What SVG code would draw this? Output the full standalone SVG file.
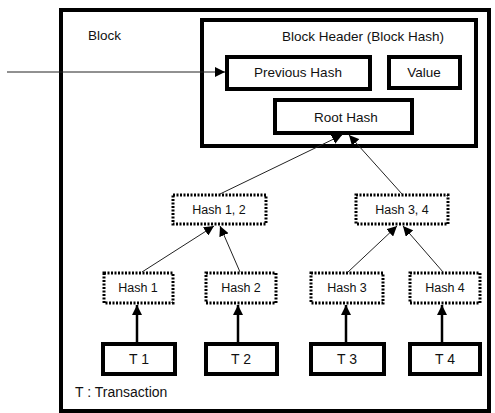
<svg xmlns="http://www.w3.org/2000/svg" width="495" height="413" viewBox="0 0 495 413">
  <style>
    .solid { fill: #fff; stroke: #000; stroke-width: 4; }
    .thick { fill: none; stroke: #000; stroke-width: 4; }
    .dot { fill: #fff; stroke: #000; stroke-width: 3; stroke-dasharray: 2 1.5; }
    text { font-family: "Liberation Sans", Arial, sans-serif; fill: #111; text-anchor: middle; }
    .lbl { font-size: 13.5px; }
    .sm { font-size: 12.5px; }
    .tx { font-size: 14px; }
    .thin { fill: none; stroke: #222; stroke-width: 1; }
    .vert { fill: none; stroke: #000; stroke-width: 2.5; }
  </style>
  <defs>
    <marker id="tip" viewBox="0 0 10 10" refX="10" refY="5" markerWidth="10" markerHeight="10" markerUnits="userSpaceOnUse" orient="auto">
      <path d="M0,0 L10,5 L0,10 z" fill="#000"/>
    </marker>
  </defs>

  <!-- outer block frame -->
  <g id="block">
    <rect class="thick" x="61" y="10" width="428" height="401"/>
    <text class="lbl" x="88" y="40" style="text-anchor:start">Block</text>
  </g>

  <!-- block header and its fields -->
  <g id="header">
    <rect class="thick" x="202" y="20" width="274" height="126"/>
    <text class="lbl" x="363" y="41">Block Header (Block Hash)</text>
  </g>

  <g id="prev-hash">
    <rect class="solid" x="227" y="57" width="143" height="32"/>
    <text class="lbl" x="298" y="77">Previous Hash</text>
  </g>

  <g id="value">
    <rect class="solid" x="389" y="57" width="71" height="31"/>
    <text class="lbl" x="424" y="77">Value</text>
  </g>

  <g id="root-hash">
    <rect class="solid" x="275" y="100" width="137" height="33"/>
    <text class="lbl" x="346" y="122">Root Hash</text>
  </g>

  <!-- merkle tree: intermediate hashes -->
  <g id="hash12">
    <rect class="dot" x="173" y="195" width="93" height="29"/>
    <text class="sm" x="219" y="214">Hash 1, 2</text>
  </g>
  <g id="hash34">
    <rect class="dot" x="356" y="195" width="92" height="29"/>
    <text class="sm" x="402" y="214">Hash 3, 4</text>
  </g>

  <!-- merkle tree: leaf hashes -->
  <g id="hash1">
    <rect class="dot" x="104" y="273" width="69" height="30"/>
    <text class="sm" x="138" y="292">Hash 1</text>
  </g>
  <g id="hash2">
    <rect class="dot" x="206" y="273" width="70" height="30"/>
    <text class="sm" x="241" y="292">Hash 2</text>
  </g>
  <g id="hash3">
    <rect class="dot" x="311" y="273" width="72" height="30"/>
    <text class="sm" x="347" y="292">Hash 3</text>
  </g>
  <g id="hash4">
    <rect class="dot" x="410" y="273" width="70" height="30"/>
    <text class="sm" x="445" y="292">Hash 4</text>
  </g>

  <!-- transactions -->
  <g id="t1">
    <rect class="solid" x="103" y="344" width="72" height="30"/>
    <text class="tx" x="139" y="364">T 1</text>
  </g>
  <g id="t2">
    <rect class="solid" x="206" y="344" width="71" height="30"/>
    <text class="tx" x="241" y="364">T 2</text>
  </g>
  <g id="t3">
    <rect class="solid" x="311" y="344" width="73" height="30"/>
    <text class="tx" x="347" y="364">T 3</text>
  </g>
  <g id="t4">
    <rect class="solid" x="410" y="344" width="70" height="30"/>
    <text class="tx" x="445" y="364">T 4</text>
  </g>

  <g id="legend">
    <text class="tx" x="75" y="397" style="text-anchor:start">T : Transaction</text>
  </g>

  <g id="connectors">
    <line class="thin" x1="7" y1="72" x2="225" y2="72" marker-end="url(#tip)"/>
    <line class="thin" x1="220" y1="194" x2="342" y2="135" marker-end="url(#tip)"/>
    <line class="thin" x1="402" y1="194" x2="349" y2="135" marker-end="url(#tip)"/>
    <line class="thin" x1="142" y1="272" x2="214" y2="226" marker-end="url(#tip)"/>
    <line class="thin" x1="240" y1="272" x2="220" y2="226" marker-end="url(#tip)"/>
    <line class="thin" x1="348" y1="272" x2="397" y2="226" marker-end="url(#tip)"/>
    <line class="thin" x1="443" y1="272" x2="403" y2="226" marker-end="url(#tip)"/>
    <line class="vert" x1="137" y1="343" x2="137" y2="305" marker-end="url(#tip)"/>
    <line class="vert" x1="238" y1="343" x2="238" y2="305" marker-end="url(#tip)"/>
    <line class="vert" x1="346" y1="343" x2="346" y2="305" marker-end="url(#tip)"/>
    <line class="vert" x1="442" y1="343" x2="442" y2="305" marker-end="url(#tip)"/>
  </g>
</svg>
